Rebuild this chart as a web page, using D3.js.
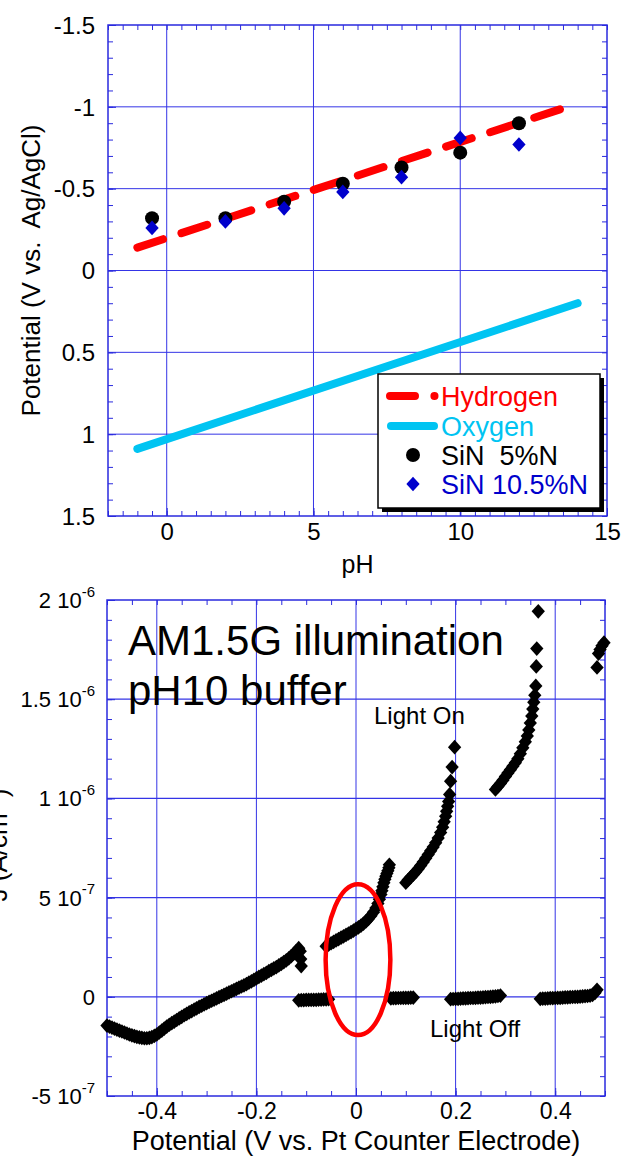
<!DOCTYPE html>
<html><head><meta charset="utf-8">
<script src="https://cdn.jsdelivr.net/npm/d3@7"></script>
<style>
body{margin:0;background:#fff;}
svg{display:block;}
text{white-space:pre;}
</style></head><body>
<svg id="c" width="621" height="1156"></svg>
<script>
// ================= TOP CHART DATA =================
const phTicks = [0, 5, 10, 15];
const phTickLabels = ["0", "5", "10", "15"];
const potTicks = [-1.5, -1, -0.5, 0, 0.5, 1, 1.5];
const potTickLabels = ["-1.5", "-1", "-0.5", "0", "0.5", "1", "1.5"];
const hydrogenPH = [-1, 14];
const hydrogenV = [-0.14, -1.02];
const oxygenPH = [-1, 14];
const oxygenV = [1.09, 0.20];
const samplePH = [-0.5, 2, 4, 6, 8, 10, 12];
const sin5V = [-0.32, -0.32, -0.42, -0.53, -0.63, -0.72, -0.90];
const sin105V = [-0.26, -0.30, -0.38, -0.48, -0.57, -0.81, -0.77];
const legendLabels = ["Hydrogen", "Oxygen", "SiN  5%N", "SiN 10.5%N"];

// ================= BOTTOM CHART DATA (J in 1e-7 A/cm2) =================
const potTicks2 = [-0.4, -0.2, 0, 0.2, 0.4];
const potTickLabels2 = ["-0.4", "-0.2", "0", "0.2", "0.4"];
const jTicks = [-5, 0, 5, 10, 15, 20];
const jTickMant = ["-5 10", "0", "5 10", "1 10", "1.5 10", "2 10"];
const jTickExp = ["-7", "", "-7", "-6", "-6", "-6"];
// light on, segment 1
const lightOn1 = [
 [-0.500,-1.45],[-0.495,-1.50],[-0.490,-1.55],[-0.485,-1.60],[-0.480,-1.65],[-0.475,-1.70],[-0.470,-1.75],
 [-0.465,-1.80],[-0.460,-1.85],[-0.455,-1.90],[-0.450,-1.94],[-0.445,-1.98],[-0.440,-2.02],[-0.435,-2.05],
 [-0.430,-2.07],[-0.425,-2.09],[-0.420,-2.09],[-0.415,-2.07],[-0.410,-2.03],[-0.405,-1.97],[-0.400,-1.90],
 [-0.395,-1.80],[-0.390,-1.70],[-0.385,-1.60],[-0.380,-1.50],[-0.375,-1.41],[-0.370,-1.33],[-0.365,-1.25],
 [-0.360,-1.17],[-0.355,-1.09],[-0.350,-1.01],[-0.345,-0.93],[-0.340,-0.86],[-0.335,-0.79],[-0.330,-0.72],
 [-0.325,-0.65],[-0.320,-0.58],[-0.315,-0.51],[-0.310,-0.45],[-0.305,-0.38],[-0.300,-0.32],[-0.295,-0.26],
 [-0.290,-0.20],[-0.285,-0.14],[-0.280,-0.08],[-0.275,-0.02],[-0.270,0.04],[-0.265,0.10],[-0.260,0.16],
 [-0.255,0.22],[-0.250,0.28],[-0.245,0.34],[-0.240,0.40],[-0.235,0.46],[-0.230,0.52],[-0.225,0.58],
 [-0.220,0.64],[-0.215,0.71],[-0.210,0.78],[-0.205,0.85],[-0.200,0.93],[-0.195,1.00],[-0.190,1.07],
 [-0.185,1.14],[-0.180,1.21],[-0.175,1.29],[-0.170,1.36],[-0.165,1.43],[-0.160,1.50],[-0.155,1.58],
 [-0.150,1.66],[-0.145,1.75],[-0.140,1.84],[-0.135,1.94],[-0.130,2.05],[-0.125,2.17],[-0.120,2.30],
 [-0.115,2.45],[-0.112,2.30],[-0.111,1.90],[-0.110,1.55]
];
// light on, segment 2
const lightOn2 = [
 [-0.060,2.55],[-0.055,2.63],[-0.050,2.70],[-0.045,2.77],[-0.040,2.84],[-0.035,2.91],[-0.030,2.98],
 [-0.025,3.05],[-0.020,3.12],[-0.015,3.19],[-0.010,3.26],[-0.005,3.34],[0.000,3.42],[0.005,3.50],
 [0.010,3.59],[0.015,3.69],[0.020,3.80],[0.025,3.93],[0.030,4.08],[0.035,4.26],[0.040,4.47],
 [0.044,4.70],[0.047,4.92],[0.050,5.15],[0.052,5.35],[0.054,5.55],[0.056,5.75],[0.058,5.92],
 [0.060,6.08],[0.062,6.22],[0.064,6.35],[0.066,6.50],[0.067,6.65]
];
// light on, segment 3
const lightOn3 = [
 [0.100,5.75],[0.105,5.90],[0.110,6.03],[0.115,6.16],[0.120,6.30],[0.125,6.45],[0.130,6.62],
 [0.135,6.80],[0.140,6.98],[0.145,7.17],[0.150,7.36],[0.155,7.55],[0.160,7.76],[0.165,8.00],
 [0.170,8.28],[0.174,8.55],[0.177,8.82],[0.180,9.10],[0.182,9.35],[0.184,9.60],[0.186,9.85],
 [0.188,10.20],[0.190,10.87],[0.193,11.58],[0.198,12.58]
];
// light on, segment 4
const lightOn4 = [
 [0.280,10.45],[0.285,10.60],[0.290,10.75],[0.295,10.92],[0.300,11.10],[0.305,11.28],[0.310,11.45],
 [0.315,11.62],[0.320,11.80],[0.325,12.00],[0.330,12.25],[0.335,12.55],[0.340,12.85],[0.344,13.15],
 [0.347,13.45],[0.350,13.80],[0.353,14.15],[0.355,14.50],[0.357,14.85],[0.359,15.20],[0.361,15.67],
 [0.362,16.65],[0.363,17.55],[0.366,19.43]
];
// light on, segment 5
const lightOn5 = [[0.484,16.60],[0.487,17.30],[0.490,17.50],[0.494,17.70],[0.498,17.85]];
// light off (dark) segments
const lightOff1 = [
 [-0.115,-0.18],[-0.110,-0.17],[-0.105,-0.17],[-0.100,-0.16],[-0.095,-0.16],[-0.090,-0.15],[-0.085,-0.15],
 [-0.080,-0.15],[-0.075,-0.14],[-0.070,-0.14],[-0.065,-0.13],[-0.060,-0.13],[-0.055,-0.12]
];
const lightOff2 = [
 [0.070,-0.08],[0.075,-0.07],[0.080,-0.07],[0.085,-0.06],[0.090,-0.06],[0.095,-0.05],[0.100,-0.05],
 [0.105,-0.05],[0.110,-0.04],[0.115,-0.04]
];
const lightOff3 = [
 [0.190,-0.12],[0.195,-0.11],[0.200,-0.10],[0.205,-0.10],[0.210,-0.09],[0.215,-0.08],[0.220,-0.08],
 [0.225,-0.07],[0.230,-0.06],[0.235,-0.06],[0.240,-0.05],[0.245,-0.04],[0.250,-0.04],[0.255,-0.03],
 [0.260,-0.02],[0.265,-0.01],[0.270,0.00],[0.275,0.01],[0.280,0.02],[0.285,0.04],[0.290,0.06]
];
const lightOff4 = [
 [0.370,-0.10],[0.375,-0.09],[0.380,-0.09],[0.385,-0.08],[0.390,-0.07],[0.395,-0.07],[0.400,-0.06],
 [0.405,-0.05],[0.410,-0.05],[0.415,-0.04],[0.420,-0.03],[0.425,-0.03],[0.430,-0.02],[0.435,-0.01],
 [0.440,0.00],[0.445,0.00],[0.450,0.01],[0.455,0.02],[0.460,0.03],[0.465,0.04],[0.470,0.06],
 [0.475,0.10],[0.480,0.20],[0.484,0.35]
];
const ellipseCenter = [0.004, 1.87];
const ellipseRadii = [0.065, 3.8];

// ================= DRAWING =================
const FONT = '"Liberation Sans", Arial, Helvetica, sans-serif';
const GRID = "#3434e6";
const FRAME = "#2a2ade";
const svg = d3.select("#c").attr("font-family", FONT);

function styleAxis(g, size) {
  g.select(".domain").remove();
  g.selectAll(".tick line").attr("stroke", FRAME).attr("stroke-width", 1);
  g.attr("font-family", FONT).attr("font-size", size || 10);
  g.selectAll(".tick text").attr("fill", "#000");
}

// ---------- top chart ----------
const tx = d3.scaleLinear().domain([-2, 15]).range([108, 607]);
const ty = d3.scaleLinear().domain([-1.5, 1.5]).range([25, 516]);
const T = svg.append("g");

T.selectAll("line.vg").data(phTicks.filter(d => d > -2 && d < 15)).join("line")
  .attr("x1", d => tx(d)).attr("x2", d => tx(d)).attr("y1", ty(-1.5)).attr("y2", ty(1.5))
  .attr("stroke", GRID).attr("stroke-width", 1);
T.selectAll("line.hg").data(potTicks.filter(d => Math.abs(d) < 1.5)).join("line")
  .attr("y1", d => ty(d)).attr("y2", d => ty(d)).attr("x1", tx(-2)).attr("x2", tx(15))
  .attr("stroke", GRID).attr("stroke-width", 1);

const phMinor = d3.range(-2, 15.001, 0.5);
const potMinor = d3.range(-15, 15.5, 1).map(d => d / 10);
T.append("g").attr("transform", `translate(0,${ty(1.5)})`)
  .call(d3.axisBottom(tx).tickValues(phMinor).tickSize(-5).tickFormat("")).call(styleAxis);
T.append("g").attr("transform", `translate(0,${ty(-1.5)})`)
  .call(d3.axisTop(tx).tickValues(phMinor).tickSize(-5).tickFormat("")).call(styleAxis);
T.append("g").attr("transform", `translate(${tx(-2)},0)`)
  .call(d3.axisLeft(ty).tickValues(potMinor).tickSize(-5).tickFormat("")).call(styleAxis);
T.append("g").attr("transform", `translate(${tx(15)},0)`)
  .call(d3.axisRight(ty).tickValues(potMinor).tickSize(-5).tickFormat("")).call(styleAxis);

const txAxis = T.append("g").attr("transform", `translate(0,${ty(1.5)})`)
  .call(d3.axisBottom(tx).tickValues(phTicks).tickSize(-8).tickFormat((d, i) => phTickLabels[i]))
  .call(g => styleAxis(g, 24));
txAxis.selectAll(".tick text").attr("y", 24).attr("dy", 0);
const tyAxis = T.append("g").attr("transform", `translate(${tx(-2)},0)`)
  .call(d3.axisLeft(ty).tickValues(potTicks).tickSize(-8).tickFormat((d, i) => potTickLabels[i]))
  .call(g => styleAxis(g, 24));
tyAxis.selectAll(".tick text").attr("x", -13).attr("dy", "0.34em");

T.append("rect").attr("x", tx(-2)).attr("y", ty(-1.5))
  .attr("width", tx(15) - tx(-2)).attr("height", ty(1.5) - ty(-1.5))
  .attr("fill", "none").attr("stroke", FRAME).attr("stroke-width", 1.5);

const tline = d3.line().x(d => tx(d[0])).y(d => ty(d[1]));
T.append("path").datum(d3.zip(oxygenPH, oxygenV)).attr("d", tline)
  .attr("fill", "none").attr("stroke", "#00c4f2").attr("stroke-width", 8).attr("stroke-linecap", "round");
T.append("path").datum(d3.zip(hydrogenPH, hydrogenV)).attr("d", tline)
  .attr("fill", "none").attr("stroke", "#ff0000").attr("stroke-width", 8).attr("stroke-linecap", "round")
  .attr("stroke-dasharray", "27,19.4");

const circleSym = d3.symbol(d3.symbolCircle, Math.PI * 7 * 7);
const diamondType = {
  draw(ctx, size) {
    const r = Math.sqrt(size) / 2;
    ctx.moveTo(0, -r * 1.05); ctx.lineTo(r * 0.95, 0); ctx.lineTo(0, r * 1.05); ctx.lineTo(-r * 0.95, 0); ctx.closePath();
  }
};
const diamondSym = d3.symbol(diamondType, 196);

T.selectAll("path.c5").data(d3.zip(samplePH, sin5V)).join("path")
  .attr("d", circleSym).attr("transform", d => `translate(${tx(d[0])},${ty(d[1])})`).attr("fill", "#000");
T.selectAll("path.d10").data(d3.zip(samplePH, sin105V)).join("path")
  .attr("d", diamondSym).attr("transform", d => `translate(${tx(d[0])},${ty(d[1])})`).attr("fill", "#0000cc");

// axis titles
T.append("text").attr("x", (tx(-2) + tx(15)) / 2).attr("y", 573).attr("text-anchor", "middle")
  .attr("font-size", 25).text("pH");
T.append("text").attr("transform", `translate(40,${(ty(-1.5) + ty(1.5)) / 2}) rotate(-90)`)
  .attr("text-anchor", "middle").attr("font-size", 26).text("Potential (V vs.  Ag/AgCl)");

// legend
const L = T.append("g");
const lx0 = 378, ly0 = 374, lw = 222, lh = 134;
L.append("rect").attr("x", lx0 + 4).attr("y", ly0 + 4).attr("width", lw).attr("height", lh).attr("fill", "#000");
L.append("rect").attr("x", lx0).attr("y", ly0).attr("width", lw).attr("height", lh)
  .attr("fill", "#fff").attr("stroke", "#000").attr("stroke-width", 1.5);
const legColors = ["#ff0000", "#00c4f2", "#000000", "#0000cc"];
const legY = [396, 426, 455, 484];
L.append("line").attr("x1", 390).attr("x2", 434.5).attr("y1", legY[0]).attr("y2", legY[0])
  .attr("stroke", legColors[0]).attr("stroke-width", 8).attr("stroke-linecap", "round").attr("stroke-dasharray", "25,19.4");
L.append("line").attr("x1", 391).attr("x2", 434).attr("y1", legY[1]).attr("y2", legY[1])
  .attr("stroke", legColors[1]).attr("stroke-width", 8).attr("stroke-linecap", "round");
L.append("path").attr("d", circleSym).attr("transform", `translate(413,${legY[2]})`).attr("fill", "#000");
L.append("path").attr("d", diamondSym).attr("transform", `translate(413,${legY[3]})`).attr("fill", "#0000cc");
L.selectAll("text.lt").data(legendLabels).join("text")
  .attr("x", 441).attr("y", (d, i) => legY[i] + 10).attr("font-size", 27)
  .attr("fill", (d, i) => legColors[i]).text(d => d);

// ---------- bottom chart ----------
const bx = d3.scaleLinear().domain([-0.5, 0.5]).range([107, 605]);
const by = d3.scaleLinear().domain([-5, 20]).range([1096, 600]);
const B = svg.append("g");

B.selectAll("line.vg").data(potTicks2).join("line")
  .attr("x1", d => bx(d)).attr("x2", d => bx(d)).attr("y1", by(20)).attr("y2", by(-5))
  .attr("stroke", GRID).attr("stroke-width", 1);
B.selectAll("line.hg").data(jTicks.filter(d => d > -5 && d < 20)).join("line")
  .attr("y1", d => by(d)).attr("y2", d => by(d)).attr("x1", bx(-0.5)).attr("x2", bx(0.5))
  .attr("stroke", GRID).attr("stroke-width", 1.3);

const vMinor = d3.range(-10, 10.5, 1).map(d => d / 20);
const jMinor = d3.range(-5, 20.5, 1);
B.append("g").attr("transform", `translate(0,${by(-5)})`)
  .call(d3.axisBottom(bx).tickValues(vMinor).tickSize(-5).tickFormat("")).call(styleAxis);
B.append("g").attr("transform", `translate(0,${by(20)})`)
  .call(d3.axisTop(bx).tickValues(vMinor).tickSize(-5).tickFormat("")).call(styleAxis);
B.append("g").attr("transform", `translate(${bx(-0.5)},0)`)
  .call(d3.axisLeft(by).tickValues(jMinor).tickSize(-5).tickFormat("")).call(styleAxis);
B.append("g").attr("transform", `translate(${bx(0.5)},0)`)
  .call(d3.axisRight(by).tickValues(jMinor).tickSize(-5).tickFormat("")).call(styleAxis);

const bxAxis = B.append("g").attr("transform", `translate(0,${by(-5)})`)
  .call(d3.axisBottom(bx).tickValues(potTicks2).tickSize(-8).tickFormat((d, i) => potTickLabels2[i]))
  .call(g => styleAxis(g, 23));
bxAxis.selectAll(".tick text").attr("y", 23).attr("dy", 0);
const byAxis = B.append("g").attr("transform", `translate(${bx(-0.5)},0)`)
  .call(d3.axisLeft(by).tickValues(jTicks).tickSize(-8).tickFormat(""))
  .call(g => styleAxis(g, 22));
byAxis.selectAll(".tick text").each(function (d) {
  const i = jTicks.indexOf(d);
  const t = d3.select(this).attr("x", -12).attr("dy", "0.34em");
  t.append("tspan").text(jTickMant[i]);
  if (jTickExp[i]) t.append("tspan").attr("font-size", 15).attr("dy", "-0.75em").text(jTickExp[i]);
});

B.append("rect").attr("x", bx(-0.5)).attr("y", by(20))
  .attr("width", bx(0.5) - bx(-0.5)).attr("height", by(-5) - by(20))
  .attr("fill", "none").attr("stroke", FRAME).attr("stroke-width", 1.5);

const allSegments = [lightOn1, lightOff1, lightOn2, lightOff2, lightOn3, lightOff3, lightOn4, lightOff4, lightOn5];
B.selectAll("g.seg").data(allSegments).join("g")
  .selectAll("path").data(d => d).join("path")
  .attr("d", diamondSym).attr("transform", d => `translate(${bx(d[0])},${by(d[1])})`).attr("fill", "#000");

B.append("ellipse").attr("cx", bx(ellipseCenter[0])).attr("cy", by(ellipseCenter[1]))
  .attr("rx", bx(ellipseRadii[0]) - bx(0)).attr("ry", by(0) - by(ellipseRadii[1]))
  .attr("fill", "none").attr("stroke", "#ff0000").attr("stroke-width", 4.5);

B.append("text").attr("x", 128).attr("y", 655).attr("font-size", 42).text("AM1.5G illumination");
B.append("text").attr("x", 128).attr("y", 705).attr("font-size", 42).text("pH10 buffer");
B.append("text").attr("x", 374).attr("y", 724).attr("font-size", 24).text("Light On");
B.append("text").attr("x", 430).attr("y", 1037).attr("font-size", 24).text("Light Off");

B.append("text").attr("x", (bx(-0.5) + bx(0.5)) / 2).attr("y", 1150).attr("text-anchor", "middle")
  .attr("font-size", 27).text("Potential (V vs. Pt Counter Electrode)");
const yl = B.append("text").attr("transform", `translate(7,845) rotate(-90)`)
  .attr("text-anchor", "middle").attr("font-size", 26);
yl.append("tspan").text("J (A/cm");
yl.append("tspan").attr("font-size", 16).attr("dy", "-0.7em").text("2");
yl.append("tspan").attr("dy", "0.45em").text(" )");
</script>
</body></html>
